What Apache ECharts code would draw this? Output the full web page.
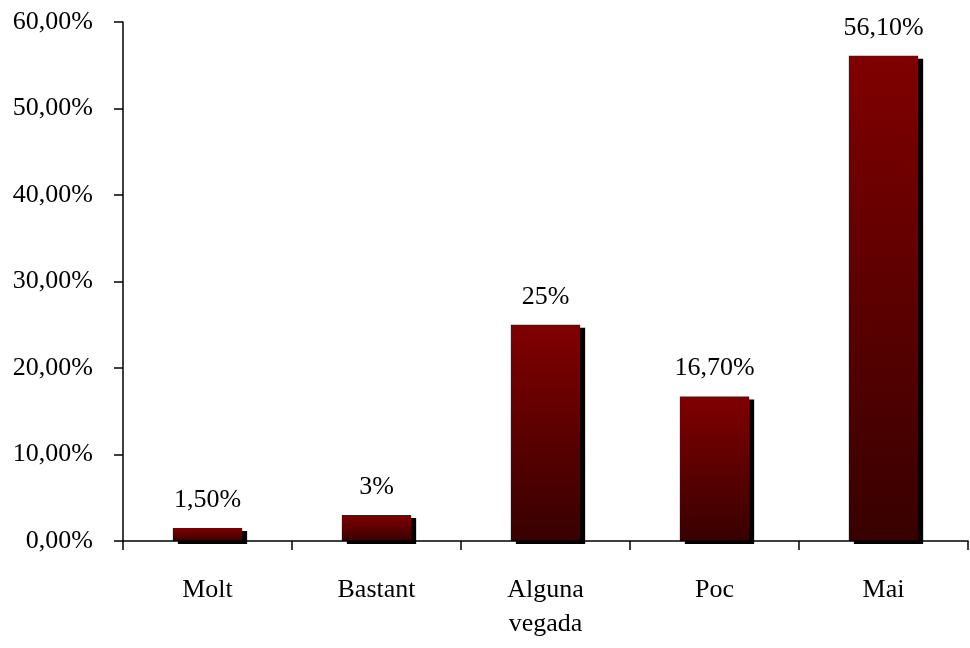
<!DOCTYPE html>
<html>
<head>
<meta charset="utf-8">
<script src="https://cdn.jsdelivr.net/npm/echarts@6/dist/echarts.min.js"></script>
<style>
html,body{margin:0;padding:0;background:#fff;}
#chart{width:970px;height:648px;}
</style>
</head>
<body>
<div id="chart"></div>
<script>
var categories = ['Molt', 'Bastant', 'Alguna\nvegada', 'Poc', 'Mai'];
var values = [1.5, 3, 25, 16.7, 56.1];
var valueLabels = ['1,50%', '3%', '25%', '16,70%', '56,10%'];
var yTickLabels = ['0,00%', '10,00%', '20,00%', '30,00%', '40,00%', '50,00%', '60,00%'];

var font = '"Liberation Serif", "Times New Roman", serif';
var chart = echarts.init(document.getElementById('chart'));
chart.setOption({
  animation: false,
  grid: {left: 123, right: 2, top: 22, bottom: 107},
  xAxis: {
    type: 'category',
    data: categories,
    z: 5,
    axisLine: {lineStyle: {color: '#000', width: 1.5}},
    axisTick: {show: true, interval: 0, alignWithLabel: false, length: 9, lineStyle: {color: '#000', width: 1.5}},
    axisLabel: {color: '#000', fontFamily: font, fontSize: 26, margin: 32, lineHeight: 34, letterSpacing: 0.8, interval: 0}
  },
  yAxis: {
    type: 'value',
    min: 0, max: 60, interval: 10,
    z: 5,
    splitLine: {show: false},
    axisLine: {show: true, lineStyle: {color: '#000', width: 1.5}},
    axisTick: {show: true, length: 9, lineStyle: {color: '#000', width: 1.5}},
    axisLabel: {
      color: '#000', fontFamily: font, fontSize: 26, margin: 30,
      formatter: function (v) { return yTickLabels[Math.round(v / 10)]; }
    }
  },
  series: [{
    type: 'bar',
    data: values,
    barWidth: '41%',
    itemStyle: {
      color: {
        type: 'linear', x: 0, y: 0, x2: 0, y2: 1,
        colorStops: [{offset: 0, color: '#800000'}, {offset: 1, color: '#380000'}]
      },
      shadowColor: '#000',
      shadowBlur: 0,
      shadowOffsetX: 5,
      shadowOffsetY: 3
    },
    label: {
      show: true,
      position: 'top',
      distance: 15,
      color: '#000',
      fontFamily: font,
      fontSize: 26,
      formatter: function (p) { return valueLabels[p.dataIndex]; }
    }
  }]
});
</script>
</body>
</html>
